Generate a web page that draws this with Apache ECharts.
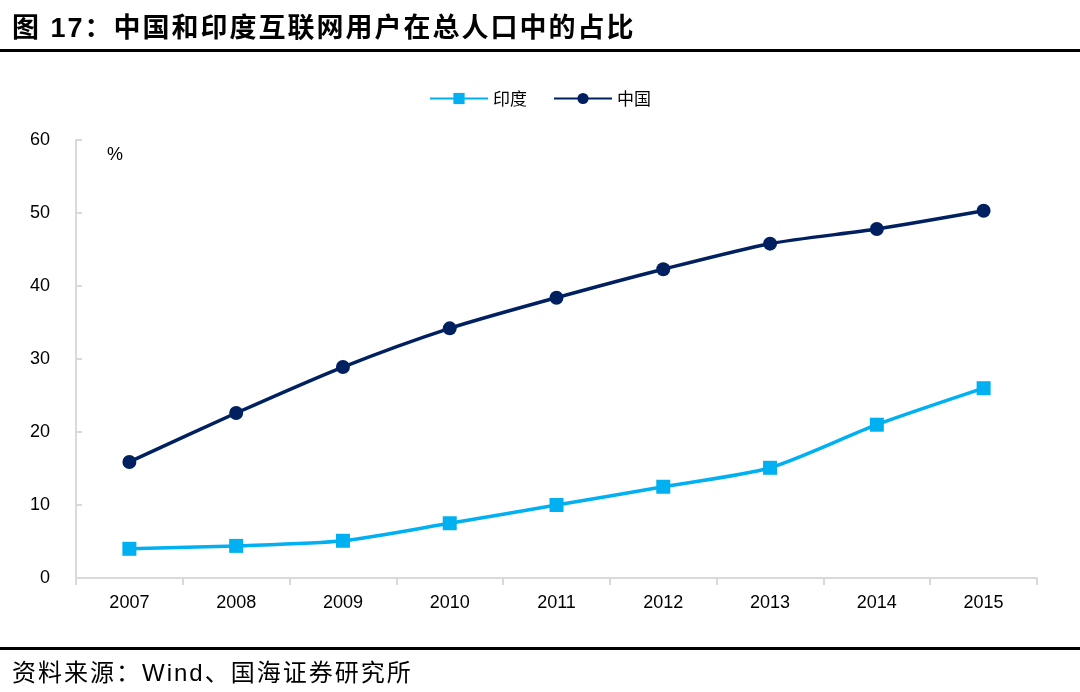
<!DOCTYPE html>
<html><head><meta charset="utf-8">
<script src="https://cdn.jsdelivr.net/npm/echarts@6/dist/echarts.min.js"></script>
<style>html,body{margin:0;padding:0;background:#fff}#c{width:1080px;height:692px}</style>
</head><body><div id="c"></div>
<script>
const years = ['2007','2008','2009','2010','2011','2012','2013','2014','2015'];
const india = [4.0, 4.4, 5.1, 7.5, 10.0, 12.5, 15.1, 21.0, 26.0];
const china = [15.9, 22.6, 28.9, 34.2, 38.4, 42.3, 45.8, 47.8, 50.3];
const titleText = '图 17：中国和印度互联网用户在总人口中的占比';
const sourceText = '资料来源：Wind、国海证券研究所';

const fam = '"Liberation Sans", Arial, "Noto Sans CJK SC", sans-serif';
const measureCtx = document.createElement('canvas').getContext('2d');
function spacedText(str, x, cy, size, weight, spacing) {
  measureCtx.font = weight + ' ' + size + 'px ' + fam;
  const out = [];
  let cx = x;
  for (const ch of str) {
    out.push({type: 'text', x: cx, y: cy, silent: true,
      style: {text: ch, fontSize: size, fontWeight: weight, fontFamily: fam, fill: '#000',
              textVerticalAlign: 'middle', verticalAlign: 'middle'}});
    cx += measureCtx.measureText(ch).width + spacing;
  }
  return out;
}

const chart = echarts.init(document.getElementById('c'));
chart.setOption({
  backgroundColor: '#fff',
  animation: false,
  grid: {left: 76, right: 43, top: 140, bottom: 114},
  legend: {
    top: 85, left: 'center', itemWidth: 58, itemHeight: 14, itemGap: 26,
    textStyle: {fontFamily: '"Noto Sans CJK SC"', fontSize: 17, color: '#000'},
    data: ['印度', '中国']
  },
  xAxis: {
    type: 'category', data: years, boundaryGap: true,
    axisLine: {lineStyle: {color: '#d9d9d9', width: 2}},
    axisTick: {show: true, length: 7, lineStyle: {color: '#d9d9d9', width: 2}},
    axisLabel: {color: '#000', fontSize: 18, fontFamily: fam, margin: 16}
  },
  yAxis: {
    type: 'value', min: 0, max: 60, interval: 10,
    axisLine: {show: true, lineStyle: {color: '#d9d9d9', width: 2}},
    axisTick: {show: true, inside: true, length: 6, lineStyle: {color: '#d9d9d9', width: 2}},
    splitLine: {show: false},
    axisLabel: {color: '#000', fontSize: 18, fontFamily: fam, margin: 26}
  },
  graphic: [].concat(
    spacedText(titleText, 12, 30, 27, 'bold', 2),
    [
      {type: 'rect', shape: {x: 0, y: 49, width: 1080, height: 3}, style: {fill: '#000'}},
      {type: 'rect', shape: {x: 0, y: 647, width: 1080, height: 3}, style: {fill: '#000'}},
      {type: 'text', left: 107, top: 146, style: {text: '%', fontSize: 18, fontFamily: fam, fill: '#000'}}
    ],
    spacedText(sourceText, 12, 674, 24, 'normal', 2)
  ),
  series: [
    {name: '印度', type: 'line', data: india, smooth: 0.25, symbol: 'rect', symbolSize: 14,
     lineStyle: {color: '#00B0F0', width: 3.5}, itemStyle: {color: '#00B0F0'}},
    {name: '中国', type: 'line', data: china, smooth: 0.25, symbol: 'circle', symbolSize: 14,
     lineStyle: {color: '#002060', width: 3.5}, itemStyle: {color: '#002060'}}
  ]
});
</script></body></html>
